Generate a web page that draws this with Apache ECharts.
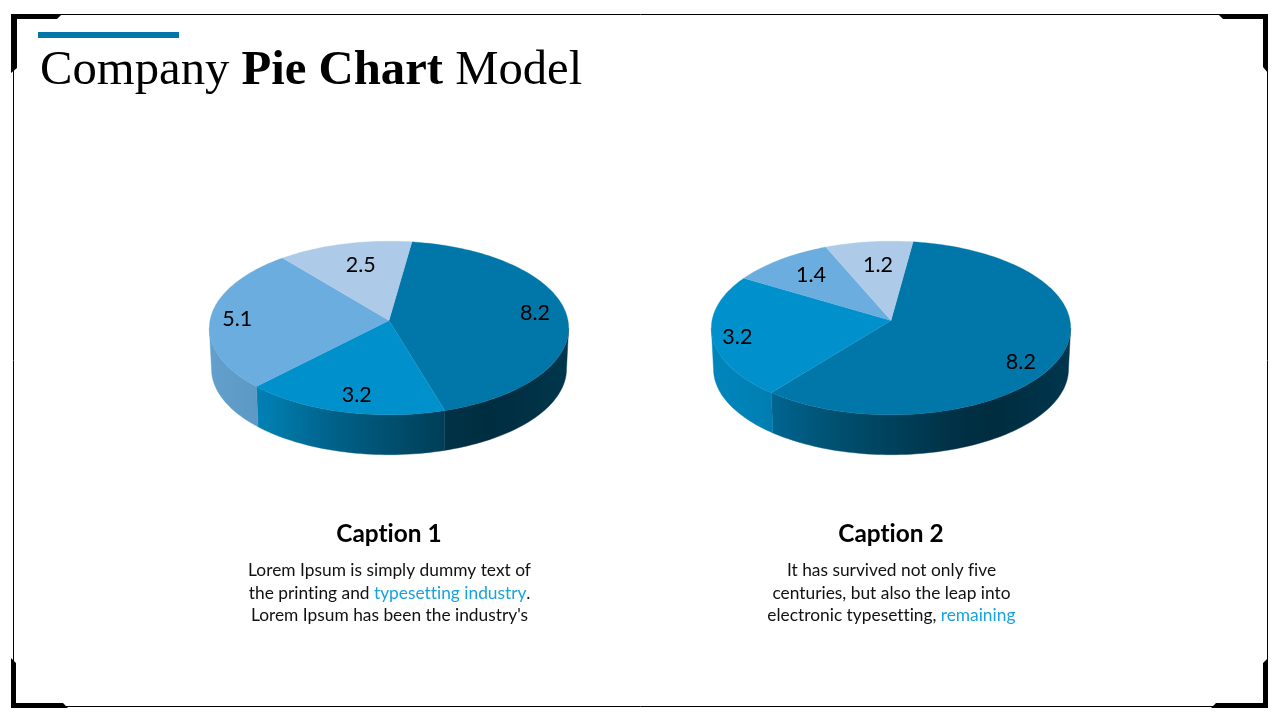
<!DOCTYPE html>
<html>
<head>
<meta charset="utf-8">
<style>html,body{margin:0;padding:0;background:#fff}#c{width:1280px;height:720px;font-variant-ligatures:none}canvas{font-variant-ligatures:none}</style>
<script src="https://cdn.jsdelivr.net/npm/echarts@6/dist/echarts.min.js"></script>
</head>
<body>
<div id="c"></div>
<script>
// ---- data ----
const pie1Values = [8.2, 3.2, 5.1, 2.5];
const pie2Values = [8.2, 3.2, 1.4, 1.2];
const pie1Labels = ['8.2', '3.2', '5.1', '2.5'];
const pie2Labels = ['8.2', '3.2', '1.4', '1.2'];
const titleParts = ['Company ', 'Pie Chart', ' Model'];
const captionTitles = ['Caption 1', 'Caption 2'];
const caption1Lines = ['{t|Lorem Ipsum is simply dummy text of}', '{t|the printing and }{l|typesetting industry}{t|.}', "{t|Lorem Ipsum has been the industry's}"];
const caption2Lines = ['{t|It has survived not only five}', '{t|centuries, but also the leap into}', '{t|electronic typesetting, }{l|remaining}'];

// ---- style and layout ----
const sliceColors = ['#0077A8', '#0091CC', '#6AADDE', '#ADCBE8'];
const bodyFont = 'Lato, "Noto Sans", sans-serif';
const lightStops = [[-1, .92], [-.7, .88], [-.35, .69], [0, .55], [.35, .41], [.6, .38], [1, .46]];
const geom = {a: 179, b: 86.2, k: -0.0863, cy: 320.5, depth: 41, shrink: .988, labelR: .8};
const pie1Layout = {cx: 389, start: 8, nudge: [[4, -2], [4, 2.5], [-9, 1], [8, 6.5]]};
const pie2Layout = {cx: 891, start: 7.7, nudge: [[-5.5, 13.6], [-11, 4], [9.6, 3.5], [5, 8.5]]};

function project(cx, deg, r, lower) {
  const t = deg * Math.PI / 180, u = r * Math.sin(t), v = -r * Math.cos(t);
  const d = 1 + geom.k * v, s = lower ? geom.shrink : 1;
  return [cx + s * geom.a * u / d, geom.cy + (lower ? geom.depth : 0) + s * geom.b * v / d];
}
function arc(cx, from, to, lower) {
  const n = Math.max(2, Math.ceil(Math.abs(to - from) / 1.5)), pts = [];
  for (let i = 0; i <= n; i++) pts.push(project(cx, from + (to - from) * i / n, 1, lower));
  return pts;
}
function hexRgb(h) { return [1, 3, 5].map(i => parseInt(h.substr(i, 2), 16)); }
function lightAt(t) {
  for (let i = 1; i < lightStops.length; i++) {
    const p = lightStops[i - 1], q = lightStops[i];
    if (t <= q[0]) return p[1] + (q[1] - p[1]) * (t - p[0]) / (q[0] - p[0]);
  }
  return lightStops[lightStops.length - 1][1];
}
function wallFill(cx, x0, x1, color) {
  const rgb = hexRgb(color), stops = [];
  for (let i = 0; i <= 12; i++) {
    const x = x0 + (x1 - x0) * i / 12, l = lightAt((x - cx) / 180);
    stops.push({offset: i / 12, color: 'rgb(' + rgb.map(c => Math.round(c * l)).join(',') + ')'});
  }
  return new echarts.graphic.LinearGradient(x0, 0, x1, 0, stops, true);
}
function pieSeries(values, labels, layout) {
  const total = values.reduce((s, v) => s + v, 0);
  return {
    type: 'custom', coordinateSystem: 'none', silent: true, animation: false,
    data: values.map(v => [v]),
    renderItem(params, api) {
      const idx = params.dataIndex;
      let before = 0;
      for (let i = 0; i < idx; i++) before += values[i];
      const from = layout.start + before / total * 360;
      const to = from + api.value(0) / total * 360;
      const color = sliceColors[idx], cx = layout.cx, children = [];
      const wa = Math.max(from, 95), wb = Math.min(to, 265);
      if (wb > wa) {
        const top = arc(cx, wa, wb, false), bot = arc(cx, wb, wa, true);
        const xs = top.concat(bot).map(p => p[0]);
        const x0 = Math.min.apply(null, xs), x1 = Math.max.apply(null, xs);
        const fill = wallFill(cx, x0, x1, color);
        children.push({type: 'polygon', shape: {points: top.concat(bot)}, style: {fill: fill, stroke: fill, lineWidth: .4}, z2: 1});
      }
      const apex = project(cx, 0, 0, false);
      children.push({type: 'polygon', shape: {points: [apex].concat(arc(cx, from, to, false))}, style: {fill: color, stroke: color, lineWidth: .3}, z2: 2});
      const anchor = project(cx, (from + to) / 2, geom.labelR, false), nudge = layout.nudge[idx];
      children.push({type: 'text', z2: 5, style: {
        text: labels[idx], x: anchor[0] + nudge[0], y: anchor[1] + nudge[1],
        align: 'center', verticalAlign: 'middle', fill: '#000',
        font: '21.5px ' + bodyFont
      }});
      return {type: 'group', children: children};
    }
  };
}
function cornerShape(points) { return {type: 'polygon', shape: {points: points}, style: {fill: '#000'}, silent: true}; }
function bodyLine(text, x, y) {
  return {type: 'text', silent: true, style: {
    text: text, x: x, y: y, align: 'center', verticalAlign: 'middle',
    rich: {
      t: {font: '17.35px ' + bodyFont, fill: '#111'},
      l: {font: '17.35px ' + bodyFont, fill: '#17A3E0'}
    }
  }};
}
const bodyRows = [570.5, 593.5, 615.5];
const chart = echarts.init(document.getElementById('c'), null, {renderer: 'canvas'});
chart.setOption({
  animation: false,
  backgroundColor: '#fff',
  title: [
    {
      text: '{r|' + titleParts[0] + '}{b|' + titleParts[1] + '}{r|' + titleParts[2] + '}',
      left: 40, top: 47, padding: 0,
      textStyle: {fontWeight: 'normal', rich: {
        r: {fontFamily: '"Liberation Serif", serif', fontSize: 48.7, fontWeight: 'normal', color: '#000'},
        b: {fontFamily: '"Liberation Serif", serif', fontSize: 48.7, fontWeight: 'bold', color: '#000'}
      }}
    },
    {text: captionTitles[0], left: 389, top: 522, padding: 0, textAlign: 'center',
      textStyle: {fontFamily: bodyFont, fontSize: 24.4, fontWeight: 'bold', color: '#000'}},
    {text: captionTitles[1], left: 891, top: 522, padding: 0, textAlign: 'center',
      textStyle: {fontFamily: bodyFont, fontSize: 24.4, fontWeight: 'bold', color: '#000'}}
  ],
  graphic: [
    {type: 'rect', shape: {x: 13.5, y: 14.5, width: 1254, height: 692}, style: {fill: 'none', stroke: '#000', lineWidth: 1}, silent: true},
    {type: 'rect', shape: {x: 38, y: 32, width: 141, height: 6}, style: {fill: '#0077A8'}, silent: true},
    cornerShape([[11, 14], [62, 14], [57, 19], [17, 19], [17, 68], [11, 73]]),
    cornerShape([[1218, 14], [1268, 14], [1268, 73], [1263, 67], [1263, 19], [1223, 19]]),
    cornerShape([[11, 658], [16, 663], [16, 703], [63, 703], [68, 708], [11, 708]]),
    cornerShape([[1268, 658], [1268, 708], [1211, 708], [1216, 703], [1263, 703], [1263, 663]])
  ].concat(
    caption1Lines.map((t, i) => bodyLine(t, 389.5, bodyRows[i])),
    caption2Lines.map((t, i) => bodyLine(t, 891.5, bodyRows[i]))
  ),
  series: [pieSeries(pie1Values, pie1Labels, pie1Layout), pieSeries(pie2Values, pie2Labels, pie2Layout)]
});
</script>
</body>
</html>
